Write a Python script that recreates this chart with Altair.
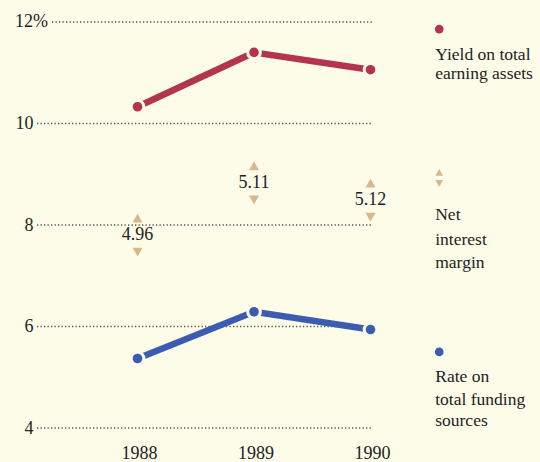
import altair as alt
import pandas as pd

# ---- data ----
years = [1988, 1989, 1990]
yield_vals = [10.33, 11.40, 11.06]      # Yield on total earning assets
rate_vals = [5.37, 6.29, 5.94]          # Rate on total funding sources
margin_text = ["4.96", "5.11", "5.12"]  # Net interest margin
margin_label_y = [7.80, 8.83, 8.49]     # where the margin labels sit (data units)
grid_vals = [4, 6, 8, 10]
top_grid = 12

legend_groups = ["Yield on total earning assets", "Net interest margin", "Rate on total funding sources"]
legend_lines = [["Yield on total", "earning assets"], ["Net", "interest", "margin"],
                ["Rate on", "total funding", "sources"]]
legend_line_y = [[11.35, 10.97], [8.19, 7.71, 7.25], [5.00, 4.55, 4.14]]
legend_marker_y = [11.86, 8.93, 5.50]
legend_x = 1990.59

# ---- styles ----
BG = "#fdfce9"
RED = "#b3344f"
BLUE = "#3b5cb0"
TAN = "#dbb689"
INK = "#222222"
FONT = "Liberation Serif"

X_MIN, X_MAX = 1987.137, 1991.455
Y_MIN, Y_MAX = 4, 12
GRID_END = 1990.02

xs = alt.Scale(domain=[X_MIN, X_MAX], nice=False, zero=False)
ys = alt.Scale(domain=[Y_MIN, Y_MAX], nice=False, zero=False)

series = pd.DataFrame({
    "year": years * 2,
    "value": yield_vals + rate_vals,
    "series": ["yield"] * 3 + ["rate"] * 3,
})
color = alt.Color("series:N", scale=alt.Scale(domain=["yield", "rate"], range=[RED, BLUE]), legend=None)

grid_df = pd.DataFrame({"v": grid_vals, "x0": X_MIN, "x1": GRID_END})
top_df = pd.DataFrame({"v": [top_grid], "x0": X_MIN, "x1": GRID_END})

base_x = alt.X("year:Q", scale=xs,
               axis=alt.Axis(values=years, format="d", domain=False, ticks=False, grid=False,
                             labelFont=FONT, labelFontSize=18, labelColor=INK, labelPadding=16,
                             labelFlush=False, labelOffset=1.5, title=None))
base_y = alt.Y("value:Q", scale=ys,
               axis=alt.Axis(values=grid_vals, domain=False, ticks=False, grid=False,
                             labelFont=FONT, labelFontSize=18, labelColor=INK, labelPadding=4,
                             labelFlush=False, title=None))

grid = alt.Chart(grid_df).mark_rule(color="#555", strokeDash=[1.3, 2.2], strokeWidth=1.5).encode(
    x=alt.X("x0:Q", scale=xs), x2="x1:Q", y=alt.Y("v:Q", scale=ys))
top_grid_rule = alt.Chart(top_df).mark_rule(color="#555", strokeDash=[1.3, 2.2], strokeWidth=1.5,
                                            xOffset=15).encode(
    x=alt.X("x0:Q", scale=xs), x2="x1:Q", y=alt.Y("v:Q", scale=ys))
top_label = alt.Chart(top_df).mark_text(align="left", baseline="middle", dx=-22, font=FONT,
                                        fontSize=18, color=INK).encode(
    x=alt.X("x0:Q", scale=xs), y=alt.Y("v:Q", scale=ys), text=alt.value("12%"))

lines = alt.Chart(series).mark_line(strokeWidth=6.5).encode(x=base_x, y=base_y, color=color, detail="series:N")
points = alt.Chart(series).mark_point(filled=True, size=160, stroke=BG, strokeWidth=3, opacity=1,
                                      strokeOpacity=1).encode(
    x=alt.X("year:Q", scale=xs), y=alt.Y("value:Q", scale=ys),
    fill=alt.Fill("series:N", scale=alt.Scale(domain=["yield", "rate"], range=[RED, BLUE]), legend=None))

margin_df = pd.DataFrame({"year": years, "label": margin_text, "ly": margin_label_y})
m_text = alt.Chart(margin_df).mark_text(font=FONT, fontSize=18, color=INK,
                                        baseline="middle").encode(
    x=alt.X("year:Q", scale=xs), y=alt.Y("ly:Q", scale=ys), text="label:N")
m_up = alt.Chart(margin_df).mark_point(shape="triangle-up", filled=True, size=100, color=TAN, opacity=1,
                                       yOffset=-17).encode(
    x=alt.X("year:Q", scale=xs), y=alt.Y("ly:Q", scale=ys))
m_down = alt.Chart(margin_df).mark_point(shape="triangle-down", filled=True, size=100, color=TAN, opacity=1,
                                         yOffset=17).encode(
    x=alt.X("year:Q", scale=xs), y=alt.Y("ly:Q", scale=ys))

# legend
leg_rows = []
for g, lines_, ys_ in zip(legend_groups, legend_lines, legend_line_y):
    for t, yv in zip(lines_, ys_):
        leg_rows.append({"group": g, "text": t, "ly": yv, "lx": legend_x})
leg_df = pd.DataFrame(leg_rows)
leg_text = alt.Chart(leg_df).mark_text(align="left", baseline="middle", font=FONT, fontSize=17.5,
                                       color=INK, dx=-4).encode(
    x=alt.X("lx:Q", scale=xs), y=alt.Y("ly:Q", scale=ys), text="text:N")

mk_df = pd.DataFrame({"group": legend_groups, "ly": legend_marker_y, "lx": legend_x})
leg_dots = alt.Chart(mk_df[mk_df.group != "Net interest margin"]).mark_point(
    filled=True, size=75, opacity=1).encode(
    x=alt.X("lx:Q", scale=xs), y=alt.Y("ly:Q", scale=ys),
    fill=alt.Fill("group:N", scale=alt.Scale(domain=[legend_groups[0], legend_groups[2]], range=[RED, BLUE]), legend=None))
leg_tri_up = alt.Chart(mk_df[mk_df.group == "Net interest margin"]).mark_point(
    shape="triangle-up", filled=True, size=60, color=TAN, opacity=1, yOffset=-5.5).encode(
    x=alt.X("lx:Q", scale=xs), y=alt.Y("ly:Q", scale=ys))
leg_tri_down = alt.Chart(mk_df[mk_df.group == "Net interest margin"]).mark_point(
    shape="triangle-down", filled=True, size=60, color=TAN, opacity=1, yOffset=5.5).encode(
    x=alt.X("lx:Q", scale=xs), y=alt.Y("ly:Q", scale=ys))

chart = alt.layer(
    grid, top_grid_rule, top_label, lines, points, m_up, m_down, m_text,
    leg_dots, leg_tri_up, leg_tri_down, leg_text
).resolve_scale(color="independent", fill="independent").properties(
    width=503, height=406,
    autosize=alt.AutoSizeParams(type="none"),
    padding={"left": 37, "top": 22, "right": 0, "bottom": 34},
    background=BG,
).configure_view(stroke=None)

chart.save("out.html", embed_options={"renderer": "svg", "actions": False})
